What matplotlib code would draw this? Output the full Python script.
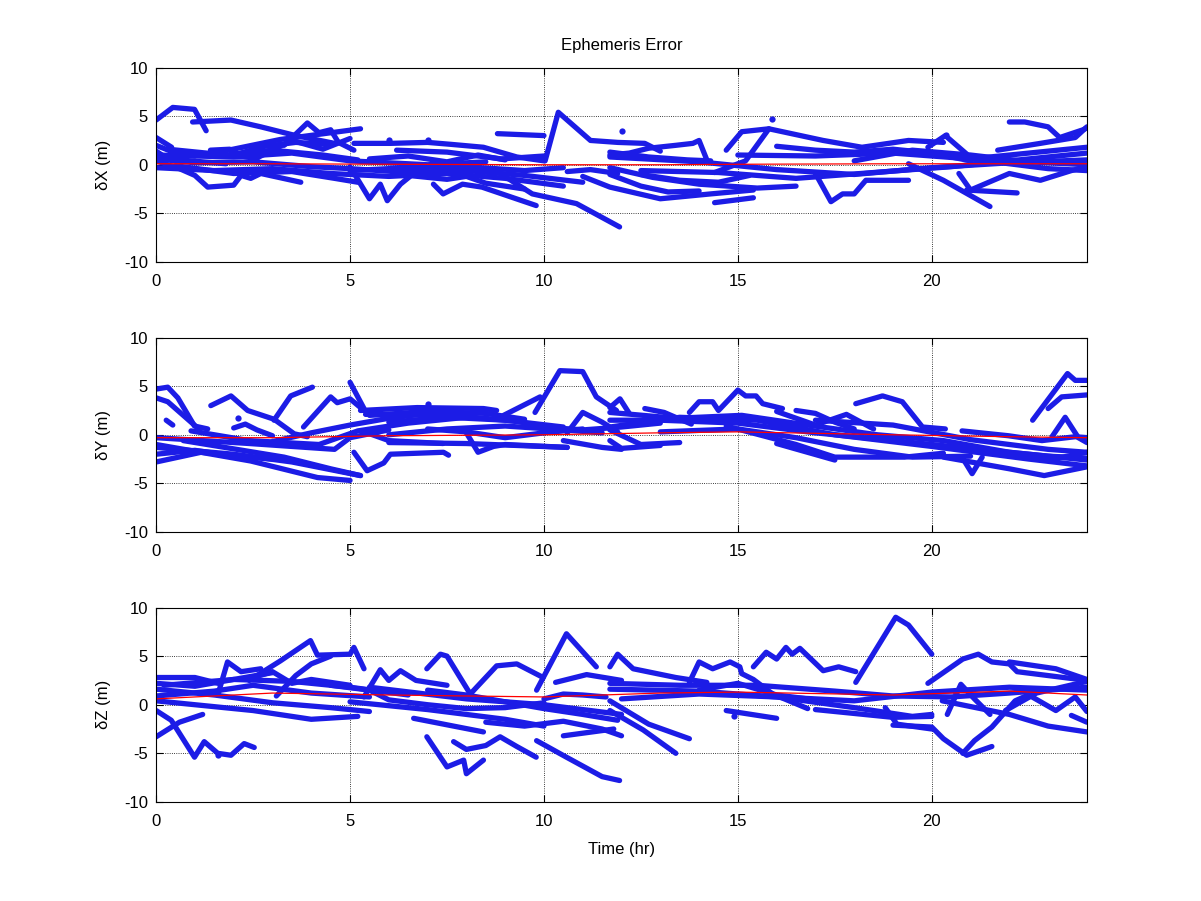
import numpy as np
import matplotlib as mpl

mpl.use('Agg')

import matplotlib.pyplot as plt

plt.rcParams['font.family'] = ['Liberation Sans', 'DejaVu Sans']
plt.rcParams['axes.unicode_minus'] = False  # plain hyphen like the original

# ---- data (time in hr, error in m) ----
# each track: (times, values)
dx_tracks = [
    ([0.0, 0.43, 0.99, 1.29], [4.6, 5.9, 5.7, 3.5]),
    ([0.94, 1.93, 2.7, 3.6, 4.6], [4.4, 4.6, 3.9, 3.0, 2.2]),
    ([1.5, 3.2, 5.27], [1.2, 2.6, 3.7]),
    ([3.3, 3.9, 4.2, 4.5, 4.7, 5.1], [2.0, 4.3, 3.3, 3.6, 2.3, 1.5]),
    ([0.0, 0.4], [2.8, 1.8]),
    ([0.0, 0.5, 1.0], [2.0, 1.2, 0.9]),
    ([0.0, 0.3, 0.9, 1.8], [1.4, 0.6, 0.4, 0.1]),
    ([0.0, 0.6, 1.0, 1.33, 2.0, 2.19, 2.44, 2.7, 3.73], [0.4, -0.4, -1.1, -2.3, -2.1, -1.1, -1.4, -0.9, -1.8]),
    ([1.4, 1.9, 2.2, 2.6], [1.5, 1.6, 0.9, 0.6]),
    ([2.5, 3.5, 4.3, 5.0], [0.5, 2.5, 1.6, 2.7]),
    ([2.0, 2.8, 3.6, 4.4], [1.0, 1.9, 2.3, 2.1]),
    ([0.0, 1.0, 2.5, 4.0, 5.0, 6.5, 8.0, 9.5, 11.0], [0.6, 0.2, 0.3, -0.2, -0.4, -0.8, -0.6, -1.1, -1.8]),
    ([0.0, 1.5, 3.0, 4.5, 6.0, 7.5, 9.0, 10.5], [-0.3, -0.6, -0.4, -0.9, -1.2, -0.9, -1.4, -2.2]),
    ([0.5, 2.0, 3.5, 4.6, 5.2], [-0.1, -0.9, -0.7, -1.4, -1.8]),
    ([0.0, 2.0, 3.5, 5.0, 7.0, 8.5], [1.0, 0.8, 1.2, 0.4, 0.0, 0.3]),
    ([0.3, 1.8, 3.0, 4.3, 5.2], [1.6, 1.0, 1.5, 1.0, 0.5]),
    ([5.0, 5.5, 5.78, 5.96, 6.3, 6.64], [-0.2, -3.5, -2.0, -3.7, -2.0, -0.9]),
    ([5.1, 6.04, 7.0, 7.6, 8.44, 9.3, 10.0], [2.2, 2.2, 2.3, 2.1, 1.8, 0.8, 0.4]),
    ([6.2, 7.5, 8.9, 10.0], [1.5, 1.3, 0.6, 0.9]),
    ([5.5, 6.5, 7.5, 8.3, 9.0], [0.6, 0.9, 0.3, 1.0, 0.5]),
    ([5.0, 6.5, 8.0, 9.5, 10.5], [-0.6, -0.3, -0.2, -0.6, -0.3]),
    ([6.5, 7.5, 8.0, 8.5, 9.5], [-1.1, -1.5, -1.2, -1.9, -2.5]),
    ([8.8, 10.0], [3.2, 3.0]),
    ([10.03, 10.37, 11.2, 11.9, 12.6, 13.0], [0.4, 5.4, 2.5, 2.3, 2.2, 1.4]),
    ([8.87, 9.7, 10.84, 11.95], [-0.9, -3.0, -4.0, -6.4]),
    ([7.15, 7.4, 7.9, 8.4, 9.8], [-2.0, -3.0, -2.0, -2.3, -4.2]),
    ([10.6, 11.2, 11.9], [-0.7, -0.5, -0.9]),
    ([11.7, 12.2, 12.7, 13.4, 13.84, 14.0, 14.2], [1.0, 1.2, 1.7, 2.0, 2.2, 2.5, 0.5]),
    ([11.7, 12.7, 13.7, 14.3], [1.3, 0.8, 0.5, 0.4]),
    ([14.4, 15.2, 15.8], [-0.8, 0.4, 3.7]),
    ([14.7, 15.1, 15.8, 16.15, 17.2, 18.2, 19.4, 20.3], [1.5, 3.4, 3.7, 3.4, 2.5, 1.8, 2.5, 2.3]),
    ([16.0, 17.0, 18.0, 19.0, 20.0, 21.0], [1.9, 1.5, 1.3, 1.6, 1.2, 0.4]),
    ([17.0, 17.4, 17.7, 18.0, 18.3, 19.4], [-0.9, -3.8, -3.0, -3.0, -1.6, -1.6]),
    ([11.0, 11.7, 13.0, 14.3, 15.4], [-1.2, -2.3, -3.5, -3.0, -2.6]),
    ([11.7, 12.8, 14.0, 15.5, 16.5], [-0.3, -1.3, -2.0, -2.4, -2.2]),
    ([11.7, 12.5, 13.2, 14.0], [-1.0, -2.2, -2.8, -2.7]),
    ([12.5, 13.5, 14.5, 15.3], [-1.0, -1.6, -1.8, -1.1]),
    ([14.4, 15.4], [-3.9, -3.4]),
    ([19.4, 20.3, 21.5], [0.1, -1.6, -4.3]),
    ([20.9, 22.2], [-2.6, -2.9]),
    ([22.0, 22.4, 23.0, 23.3, 23.9, 24.0], [4.4, 4.4, 3.9, 2.8, 3.6, 3.8]),
    ([21.7, 22.8, 23.7, 24.0], [1.5, 2.2, 2.8, 3.9]),
    ([19.9, 20.35, 20.9], [1.8, 3.0, 1.1]),
    ([20.7, 21.0, 22.0, 22.8, 23.6, 24.0], [-0.9, -2.6, -0.9, -1.6, -0.6, -0.2]),
    ([11.7, 14.0, 16.0, 18.0, 20.0, 22.0, 24.0], [0.8, 0.3, -0.5, -1.0, -0.3, 0.2, 0.5]),
    ([12.5, 14.5, 16.5, 18.5, 20.5, 22.5, 24.0], [-0.6, -0.8, -1.4, -0.8, -0.2, 0.6, 1.2]),
    ([15.0, 17.0, 19.0, 21.0, 23.0, 24.0], [1.0, 0.9, 1.2, 0.6, -0.4, -0.6]),
    ([18.0, 19.5, 21.0, 22.5, 24.0], [0.4, 1.5, 1.0, 0.3, 0.0]),
    ([21.0, 22.0, 23.0, 24.0], [0.6, 1.0, 1.4, 1.8]),
]
dx_dots_t = [6.0, 7.0, 12.0, 15.87, 20.37]
dx_dots_v = [2.5, 2.5, 3.5, 4.7, 3.1]

dy_tracks = [
    ([0.0, 0.3, 0.56, 0.99, 1.33], [4.7, 4.9, 3.8, 0.9, 0.6]),
    ([0.0, 0.3, 0.7, 1.1], [3.8, 3.4, 2.0, 0.6]),
    ([0.26, 0.43], [1.5, 1.0]),
    ([1.41, 1.93, 2.36, 3.04, 3.56, 3.9], [3.0, 4.0, 2.5, 1.6, 0.1, -0.2]),
    ([3.04, 3.47, 4.03], [1.5, 4.0, 4.9]),
    ([3.8, 4.5, 4.67, 5.0, 5.36], [0.8, 3.9, 3.3, 3.7, 2.5]),
    ([5.0, 5.36], [5.4, 2.7]),
    ([2.0, 2.3, 2.6, 3.0], [0.7, 1.1, 0.5, -0.1]),
    ([0.0, 1.16, 2.5], [-2.8, -1.8, -2.3]),
    ([0.0, 2.0, 3.5, 5.27], [-1.3, -2.0, -2.8, -4.2]),
    ([0.0, 2.44, 4.16, 5.0], [-1.0, -2.7, -4.4, -4.7]),
    ([0.7, 3.3, 4.5, 5.27], [-0.6, -2.3, -3.5, -4.2]),
    ([0.0, 1.0, 2.0, 3.0], [-2.0, -1.6, -2.2, -2.5]),
    ([0.0, 2.4, 4.6, 5.0, 6.0], [-0.3, -0.9, -1.5, -0.3, 0.5]),
    ([0.9, 2.4, 4.2, 5.2, 6.5, 8.0], [0.4, -0.6, -1.0, 0.4, 1.2, 1.8]),
    ([3.0, 4.0, 5.0, 6.0, 7.0], [-0.7, 0.2, 1.0, 1.7, 2.2]),
    ([5.1, 5.44, 5.87, 6.04, 7.41, 7.54], [-1.8, -3.7, -2.9, -2.0, -1.8, -2.1]),
    ([5.27, 6.73, 8.44, 8.78], [2.5, 2.8, 2.7, 2.5]),
    ([5.5, 7.0, 8.5, 9.5], [2.0, 2.4, 2.2, 1.6]),
    ([5.4, 7.6, 9.3, 10.0], [2.1, 2.0, 1.4, 0.8]),
    ([6.0, 7.5, 9.0, 10.5], [1.3, 1.8, 1.5, 0.8]),
    ([6.0, 7.5, 9.0, 10.5, 11.5], [0.0, 0.6, 0.9, 0.5, 0.2]),
    ([7.0, 8.0, 9.0, 10.0, 11.0], [0.6, 0.3, -0.3, 0.2, 0.6]),
    ([5.3, 6.0, 7.4], [0.4, -0.6, -0.9]),
    ([8.0, 8.3, 8.7, 9.0, 10.6], [0.2, -1.8, -1.2, -1.0, -1.3]),
    ([6.0, 8.0, 10.6], [-0.8, -0.9, -1.3]),
    ([8.96, 9.9], [2.0, 3.9]),
    ([9.77, 10.41, 11.0, 11.35, 11.87], [2.3, 6.6, 6.5, 3.9, 2.5]),
    ([10.6, 11.0, 11.5, 11.9], [0.2, 2.3, 1.3, 0.3]),
    ([10.0, 11.0, 12.0, 13.0], [0.8, 0.5, 0.8, 1.2]),
    ([10.5, 11.5, 12.0], [-0.6, -1.3, -1.5]),
    ([11.7, 11.96, 12.2], [2.8, 3.7, 2.2]),
    ([12.6, 13.1, 13.8], [2.7, 2.3, 1.1]),
    ([13.75, 14.0, 14.35, 14.5, 15.0, 15.2, 15.47, 15.64, 16.15], [2.3, 3.4, 3.4, 2.5, 4.6, 4.0, 4.0, 3.2, 2.7]),
    ([11.7, 13.0, 15.0, 17.0, 19.0, 21.0, 23.0, 24.0], [1.5, 1.5, 1.2, 0.2, -0.6, -1.4, -2.2, -2.4]),
    ([11.7, 13.5, 15.5, 17.5, 20.0, 22.5, 24.0], [0.8, 1.8, 1.5, 0.0, -1.2, -2.5, -3.2]),
    ([11.7, 13.4, 15.1, 16.8, 18.6, 20.3, 22.0, 24.0], [2.3, 1.7, 2.0, 1.0, 0.0, -0.6, -1.8, -2.6]),
    ([13.0, 15.0, 16.5, 18.0, 19.5, 21.0], [0.3, 0.6, -0.3, -1.5, -2.3, -2.2]),
    ([16.0, 17.0, 17.8, 18.5], [2.4, 1.0, 2.1, 0.6]),
    ([11.7, 12.5, 13.5], [0.5, -1.0, -0.8]),
    ([18.04, 18.73, 19.24, 19.76, 20.35], [3.2, 4.0, 3.4, 0.8, 0.6]),
    ([20.78, 21.98, 22.84, 23.7, 24.0], [0.4, -0.1, -0.6, -0.2, -0.3]),
    ([20.78, 21.04, 21.3], [-2.3, -4.0, -2.3]),
    ([22.6, 23.5, 23.7, 24.0], [1.5, 6.3, 5.6, 5.6]),
    ([23.0, 23.35, 24.0], [2.7, 3.9, 4.1]),
    ([23.1, 23.44, 23.78, 24.0], [-0.2, 1.8, -0.3, -0.8]),
    ([20.3, 22.0, 22.9, 24.0], [-2.3, -3.5, -4.2, -3.3]),
    ([21.0, 22.0, 23.0, 24.0], [-1.4, -2.0, -2.6, -1.8]),
    ([16.0, 17.5], [-0.9, -2.6]),
    ([14.7, 16.5, 17.5, 19.3, 20.3], [0.9, -1.0, -2.3, -2.3, -1.9]),
    ([16.5, 17.0, 17.5, 18.0], [2.5, 2.2, 1.3, 0.6]),
    ([11.7, 12.0, 13.0], [-0.6, -1.4, -1.1]),
    ([17.0, 19.0, 21.0, 23.0, 24.0], [1.5, 1.0, -0.5, -1.5, -1.8]),
]
dy_dots_t = [2.1, 7.0]
dy_dots_v = [1.7, 3.2]

dz_tracks = [
    ([0.0, 1.0, 1.6], [2.8, 2.8, 2.2]),
    ([0.0, 1.0, 2.0, 3.0], [2.2, 1.9, 2.6, 3.3]),
    ([1.59, 1.84, 2.19, 2.7], [1.0, 4.4, 3.4, 3.7]),
    ([2.5, 3.0, 3.5, 4.0, 5.0], [2.8, 3.4, 2.2, 2.6, 2.0]),
    ([2.4, 3.2, 3.98, 4.16, 5.0, 5.1, 5.36], [2.5, 4.5, 6.6, 5.1, 5.2, 5.9, 3.7]),
    ([3.1, 3.6, 4.0, 4.5], [0.9, 3.0, 4.2, 5.0]),
    ([0.0, 0.39, 0.99, 1.24, 1.59, 1.93, 2.27, 2.53], [-0.6, -1.6, -5.4, -3.8, -5.0, -5.2, -4.0, -4.4]),
    ([0.0, 0.6, 1.2], [-3.3, -1.8, -1.0]),
    ([0.0, 2.5, 4.0, 5.2], [0.4, -0.6, -1.5, -1.2]),
    ([0.0, 1.5, 3.0, 4.5, 5.5], [1.6, 1.0, 0.2, -0.3, -0.7]),
    ([0.2, 2.0, 3.5, 5.0, 6.5], [2.0, 2.6, 2.4, 1.8, 1.0]),
    ([0.0, 1.5, 2.5, 4.0, 5.5], [0.9, 1.4, 2.0, 1.2, 0.8]),
    ([4.5, 5.5, 6.0, 7.0, 8.0, 9.0, 10.0], [2.0, 1.5, 0.5, 0.0, -0.4, -0.3, 0.2]),
    ([5.36, 5.78, 6.0, 6.3, 6.7, 7.5], [0.8, 3.6, 2.5, 3.5, 2.5, 2.0]),
    ([6.98, 7.33, 7.5, 8.1, 8.78, 9.3, 9.98], [3.7, 5.2, 5.0, 1.1, 4.0, 4.2, 2.8]),
    ([6.64, 8.44], [-1.4, -2.8]),
    ([6.98, 7.5, 7.93, 8.0, 8.44], [-3.3, -6.4, -5.7, -7.1, -5.7]),
    ([7.67, 8.0, 8.5, 8.87, 9.3, 9.8], [-3.8, -4.6, -4.2, -3.3, -4.3, -5.4]),
    ([8.5, 9.5, 10.5, 11.5, 12.0], [-1.8, -2.2, -1.7, -2.5, -3.2]),
    ([7.0, 8.0, 9.0, 10.0, 11.0, 11.9], [1.5, 1.0, 0.3, -0.4, -1.0, -1.6]),
    ([9.81, 10.58, 11.35], [1.5, 7.3, 3.9]),
    ([9.81, 10.58, 11.5, 11.95], [-3.7, -5.4, -7.4, -7.8]),
    ([10.3, 11.1, 12.0], [2.3, 3.1, 2.5]),
    ([10.0, 10.5, 11.0, 11.6], [0.6, 1.1, 1.0, 0.8]),
    ([10.5, 11.8], [-3.2, -2.5]),
    ([5.0, 7.0, 9.0, 10.0], [0.3, -0.5, -1.5, -2.2]),
    ([5.5, 8.0, 10.0, 12.0], [1.8, 0.6, 0.0, -1.0]),
    ([11.7, 11.9, 12.3, 13.4, 14.2], [3.9, 5.2, 3.7, 2.8, 2.3]),
    ([13.75, 14.0, 14.35, 14.8, 15.05, 15.1, 15.4, 15.9, 16.8], [2.3, 4.4, 3.7, 4.4, 3.9, 3.2, 2.6, 1.1, -0.4]),
    ([15.4, 15.73, 16.0, 16.24, 16.4, 16.6, 17.2, 17.6, 18.04], [3.9, 5.4, 4.7, 5.9, 5.2, 5.8, 3.5, 3.9, 3.4]),
    ([18.04, 19.07, 19.4, 20.0], [2.3, 9.0, 8.2, 5.2]),
    ([14.0, 15.0, 16.0, 17.0], [1.5, 2.2, 1.0, 0.5]),
    ([11.7, 12.56, 13.4], [-0.6, -2.6, -5.0]),
    ([11.7, 12.7, 13.75], [0.4, -2.0, -3.5]),
    ([14.7, 16.0], [-0.6, -1.4]),
    ([18.8, 19.1, 20.0], [-0.3, -2.0, -2.5]),
    ([19.0, 20.0, 20.3, 20.9, 21.55], [-2.1, -2.3, -3.5, -5.2, -4.3]),
    ([19.9, 20.8, 21.2, 21.55, 22.0, 22.2, 23.0, 24.0], [2.2, 4.7, 5.2, 4.4, 4.2, 3.4, 3.0, 2.5]),
    ([20.4, 20.75, 21.1, 21.5], [-1.0, 2.1, 0.6, -1.0]),
    ([20.8, 21.1, 21.55, 22.15, 22.6], [-5.0, -3.7, -2.3, 0.4, 1.2]),
    ([20.27, 22.0, 23.0, 24.0], [0.4, -1.0, -2.2, -2.8]),
    ([21.9, 22.7, 24.0], [-0.6, 1.2, 2.4]),
    ([22.0, 23.2, 24.0], [4.4, 3.7, 2.6]),
    ([23.6, 24.0], [-1.1, -1.8]),
    ([22.5, 23.2, 23.7, 24.0], [1.0, -0.6, 0.8, -0.7]),
    ([11.7, 14.0, 16.0, 18.0, 20.0, 22.0, 24.0], [1.6, 1.4, 0.8, 0.4, 1.3, 1.8, 1.5]),
    ([11.7, 13.5, 15.5, 17.5, 19.0, 20.5, 22.0, 24.0], [2.2, 2.0, 2.0, 1.4, 0.9, 0.8, 1.2, 1.8]),
    ([12.0, 14.0, 16.0, 18.0, 19.5, 20.0], [0.6, 1.1, 0.8, -0.3, -1.2, -1.0]),
    ([17.0, 19.0, 20.0], [-0.5, -1.3, -1.2]),
]
dz_dots_t = [1.6, 14.9, 20.6]
dz_dots_v = [-5.2, -1.2, 1.4]

# red reference curves
ref_t = [0, 3, 6, 10, 13, 15, 19, 22, 24]
ref_x = [0.1, 0.1, 0.05, 0.0, 0.0, 0.05, 0.1, 0.1, 0.1]
ref_y = [-0.3, -0.3, -0.1, 0.0, 0.2, 0.3, 0.0, -0.2, -0.3]
ref_z = [0.6, 1.2, 1.0, 0.8, 1.2, 1.3, 1.0, 1.4, 1.0]

panels = [
    (dx_tracks, dx_dots_t, dx_dots_v, ref_x, '\u03b4X (m)'),
    (dy_tracks, dy_dots_t, dy_dots_v, ref_y, '\u03b4Y (m)'),
    (dz_tracks, dz_dots_t, dz_dots_v, ref_z, '\u03b4Z (m)'),
]

blue = '#1c1ce6'

fig = plt.figure(figsize=(12.01, 9.01), dpi=100)
bottoms = [0.7093, 0.4096, 0.11]  # matlab subplot(3,1,k) positions

for k, (tracks, dt, dv, ref, ylab) in enumerate(panels):
    ax = fig.add_axes([0.13, bottoms[k], 0.775, 0.2157])
    for t, v in tracks:
        ax.plot(t, v, '-', color=blue, lw=3.8, solid_joinstyle='round', solid_capstyle='round')
    ax.plot(dt, dv, 'o', color=blue, ms=4.5, mew=0)
    ax.plot(ref_t, ref, '-', color='red', lw=0.9)
    ax.set_xlim(0, 24)
    ax.set_ylim(-10, 10)
    ax.set_xticks([0, 5, 10, 15, 20])
    ax.set_yticks([-10, -5, 0, 5, 10])
    ax.grid(True, linestyle=':', color='black', lw=0.6)
    ax.tick_params(direction='in', top=True, right=True, labelsize=12, length=5, pad=6)
    ax.tick_params(axis='x', pad=9)
    ax.set_ylabel(ylab, fontsize=12, labelpad=9)
    if k == 0:
        ax.set_title('Ephemeris Error', fontsize=12, pad=13)
    if k == 2:
        ax.set_xlabel('Time (hr)', fontsize=12, labelpad=9)

fig.savefig('out.png', dpi=100)
